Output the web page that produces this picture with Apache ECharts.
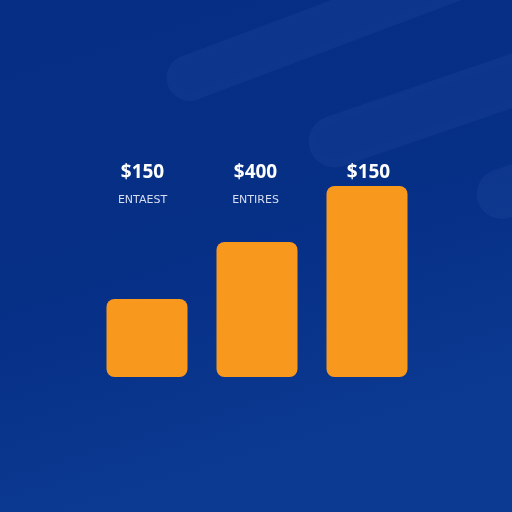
<!doctype html>
<html>
<head>
<meta charset="utf-8">
<title>bars</title>
<style>
	html, body { margin: 0; padding: 0; background: #08328a; }
	#main { width: 512px; height: 512px; }
</style>
<script src="https://cdn.jsdelivr.net/npm/echarts@6/dist/echarts.min.js"></script>
</head>
<body>
<div id="main"></div>
<script>
	// data
	var categories = ['ENTAEST', 'ENTIRES', ''];
	var priceLabels = ['$150', '$400', '$150'];
	var barValues = [78, 135, 191];

	var myChart = echarts.init(document.getElementById('main'));

	// soft diagonal streaks in the background
	function streak(x, y, h, len, rot) {
		return {
			type: 'rect',
			silent: true,
			z: -10,
			x: x, y: y,
			originX: 0, originY: 0,
			rotation: rot,
			shape: { x: 0, y: -h / 2, width: len, height: h, r: h / 2 },
			style: { fill: 'rgba(110,150,220,0.07)', shadowBlur: 6, shadowColor: 'rgba(110,150,220,0.05)' }
		};
	}

	var option = {
		backgroundColor: {
			type: 'linear', x: 0, y: 0, x2: 0.3, y2: 1,
			colorStops: [
				{ offset: 0, color: '#062e85' },
				{ offset: 0.55, color: '#062f86' },
				{ offset: 1, color: '#0c3a92' }
			]
		},
		graphic: [
			streak(168, 86, 46, 420, 0.36),
			streak(310, 150, 52, 300, 0.33),
			streak(478, 202, 50, 200, 0.33)
		],
		grid: [
			{ left: 92, width: 330, top: 186, height: 191 },
			{ left: 86, width: 339, top: 209, height: 1 }
		],
		xAxis: [
			{
				type: 'category', gridIndex: 0, data: categories,
				axisLine: { show: false }, axisTick: { show: false }, axisLabel: { show: false }
			},
			{
				type: 'category', gridIndex: 1, position: 'top', data: categories,
				axisLine: { show: false }, axisTick: { show: false },
				axisLabel: {
					margin: 0,
					formatter: function (name, i) {
						return '{v|' + priceLabels[i] + '}\n{n|' + (name || ' ') + '}';
					},
					rich: {
						v: { color: '#ffffff', fontSize: 19, fontWeight: 'bold', fontFamily: 'Open Sans', lineHeight: 36 },
						n: { color: '#d6def0', fontSize: 11, fontFamily: 'DejaVu Sans', lineHeight: 18 }
					}
				}
			}
		],
		yAxis: [
			{ type: 'value', gridIndex: 0, min: 0, max: 191, show: false, splitLine: { show: false } },
			{ type: 'value', gridIndex: 1, show: false, splitLine: { show: false } }
		],
		series: [
			{
				type: 'bar',
				xAxisIndex: 0, yAxisIndex: 0,
				data: barValues,
				barWidth: 81,
				clip: false,
				itemStyle: { color: '#f8991e', borderRadius: 8 }
			}
		]
	};
	myChart.setOption(option);
</script>
</body>
</html>
